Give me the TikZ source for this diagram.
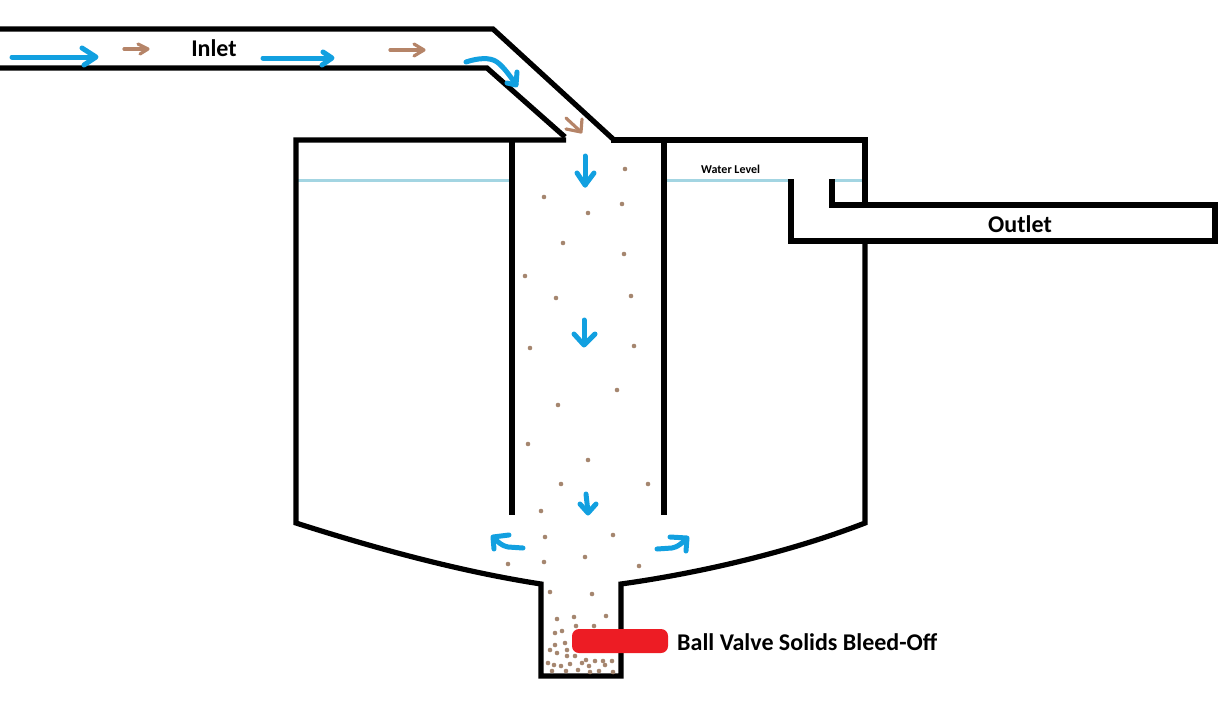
\documentclass[tikz,border=0pt]{standalone}
\usepackage{fontspec}
\setmainfont{Carlito}
\definecolor{flow}{HTML}{12A0E0}
\definecolor{solid}{HTML}{B58468}
\definecolor{dotc}{HTML}{A5866F}
\definecolor{valve}{HTML}{ED1C24}
\definecolor{water}{HTML}{A3D5E2}
\tikzset{
  wall/.style={draw=black,line width=5.2pt,line join=miter},
  waterline/.style={draw=water,line width=3pt},
  blueflow/.style={draw=flow,line width=5pt,line cap=round,line join=round},
  brownflow/.style={draw=solid,line width=3.2pt,line cap=round,line join=round},
  biglabel/.style={font=\fontsize{24}{26}\selectfont\bfseries,inner sep=0pt,text=black},
  smalllabel/.style={font=\fontsize{12}{14}\selectfont\bfseries,inner sep=0pt,text=black},
  valvebox/.style={fill=valve,rounded corners=7pt,draw=none}
}
\newcommand{\grit}[1]{\foreach \p in {#1}{\fill[dotc] \p circle (2.3pt);}}
\begin{document}
\begin{tikzpicture}[x=1pt,y=-1pt]
\useasboundingbox (0,0) rectangle (1220,712);
% water level
\draw[waterline] (298,180) -- (512,180);
\draw[waterline] (666,180) -- (790,180);
\draw[waterline] (834,180) -- (864,180);
% inlet pipe
\draw[wall] (-5,29) -- (493,29) -- (613,139);
\draw[wall] (-5,68) -- (487,68) -- (565,137);
% tank
\draw[wall] (566,140) -- (296,140) -- (296,523) .. controls (390,553) and (470,573) .. (541,584) -- (541,676) -- (621,676) -- (621,584) .. controls (700,573) and (790,552) .. (865,523) -- (865,242);
\draw[wall] (611,140) -- (865,140) -- (865,205);
% inner pipe
\draw[wall] (512,140) -- (512,515);
\draw[wall] (664,140) -- (664,515);
% outlet
\draw[wall] (832,179) -- (832,205) -- (1215,205) -- (1215,241) -- (791,241) -- (791,179);
% suspended solids
\grit{(625,169),(544,197),(622,204),(588,213),(563,243),(624,254),(525,276),(556,298),(631,296),(530,348),(634,346),(617,390),(558,405),(528,444),(588,460),(561,484),(648,484),(541,511),(545,537),(613,535),(508,564),(544,562),(585,557),(639,566),
(550,592),(592,594),(557,619),(574,617),(606,616),(576,626),(594,626),(555,633),(562,631),(565,643),(555,645),(550,650),(567,650),(557,653),(567,656),(575,656),(548,663),(554,665),(561,666),(570,664),(566,671),(552,671),(578,670),(582,663),(586,660),(589,666),(595,661),(603,661),(605,665),(612,661),(590,672),(599,671),(613,672)}
% flow arrows
\draw[blueflow] (12,57) -- (95,57);
\draw[blueflow] (82,48) -- (96,57) -- (84,65);
\draw[brownflow] (124,49) -- (147,49);
\draw[brownflow] (138,44) -- (148,49) -- (140,54);
\draw[blueflow] (263,58) -- (331,58);
\draw[blueflow] (323,52) -- (332,58) -- (322,65);
\draw[brownflow] (390,50) -- (423,50);
\draw[brownflow] (414,44) -- (424,50) -- (414,56);
\draw[blueflow] (466,62) .. controls (478,58) and (490,57) .. (497,62) .. controls (505,68) and (511,78) .. (516,84);
\draw[blueflow] (517,72) -- (516,85) -- (507,83);
\draw[brownflow] (566,118) -- (580,131);
\draw[brownflow] (582,119) -- (581,132) -- (566,129);
\draw[blueflow] (585,156) -- (585,185);
\draw[blueflow] (577,173) -- (585,185) -- (594,173);
\draw[blueflow] (584,320) -- (584,344);
\draw[blueflow] (574,334) -- (584,345) -- (595,334);
\draw[blueflow] (586,494) -- (588,512);
\draw[blueflow] (580,504) -- (588,513) -- (596,504);
\draw[blueflow] (523,548) -- (508,547) .. controls (502,546) and (498,542) .. (494,538);
\draw[blueflow] (509,535) -- (493,537) -- (494,549);
\draw[blueflow] (657,549) -- (672,548) .. controls (678,547) and (682,543) .. (686,539);
\draw[blueflow] (670,537) -- (687,538) -- (686,551);
% valve
\node[valvebox,minimum width=96pt,minimum height=24pt,inner sep=0pt] (valve) at (620,641) {};
% labels
\node[biglabel] (inlet) at (214,48) {Inlet};
\node[biglabel] (outlet) at (1020,224) {Outlet};
\node[biglabel,anchor=west] (bleed) at (677,642) {Ball Valve Solids Bleed-Off};
\node[smalllabel,anchor=west] (level) at (701,169) {Water Level};
\end{tikzpicture}
\end{document}
